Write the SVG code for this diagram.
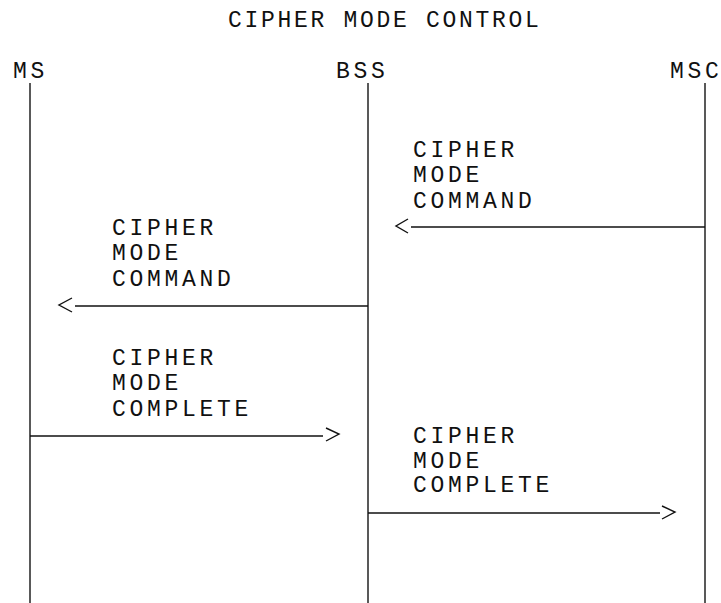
<svg xmlns="http://www.w3.org/2000/svg" width="721" height="603" viewBox="0 0 721 603">
<style>
text{font-family:"Liberation Mono","Courier New",monospace;font-size:23px;letter-spacing:3.7px;fill:#111}
#title text{letter-spacing:2.7px}
.life{stroke:#222;stroke-width:1.5;fill:none}
.msg{stroke:#111;stroke-width:1.4;fill:none}
.head{stroke:#111;stroke-width:1.4;fill:none}
</style>
<rect width="721" height="603" fill="#fff"/>
<g id="title"><text x="228" y="27">CIPHER MODE CONTROL</text></g>
<g id="MS"><text x="13" y="78">MS</text><line class="life" x1="30" y1="83" x2="30" y2="603"/></g>
<g id="BSS"><text x="336" y="78">BSS</text><line class="life" x1="368" y1="83" x2="368" y2="603"/></g>
<g id="MSC"><text x="670" y="78">MSC</text><line class="life" x1="705" y1="83" x2="705" y2="603"/></g>
<g id="connectors">
<g id="m1"><line class="msg" x1="705" y1="227" x2="411" y2="227"/><polyline class="head" points="408,219 396,226 408,233"/>
<text x="413" y="157">CIPHER</text><text x="413" y="182">MODE</text><text x="413" y="208">COMMAND</text></g>
<g id="m2"><line class="msg" x1="368" y1="306" x2="75" y2="306"/><polyline class="head" points="72,298 59,305 72,312"/>
<text x="112" y="235">CIPHER</text><text x="112" y="260">MODE</text><text x="112" y="286">COMMAND</text></g>
<g id="m3"><line class="msg" x1="30" y1="436" x2="323" y2="436"/><polyline class="head" points="326,428 339,434 326,441"/>
<text x="112" y="365">CIPHER</text><text x="112" y="390">MODE</text><text x="112" y="416">COMPLETE</text></g>
<g id="m4"><line class="msg" x1="368" y1="513" x2="660" y2="513"/><polyline class="head" points="662,506 675,512 662,519"/>
<text x="413" y="443">CIPHER</text><text x="413" y="468">MODE</text><text x="413" y="492">COMPLETE</text></g>
</g>
</svg>
